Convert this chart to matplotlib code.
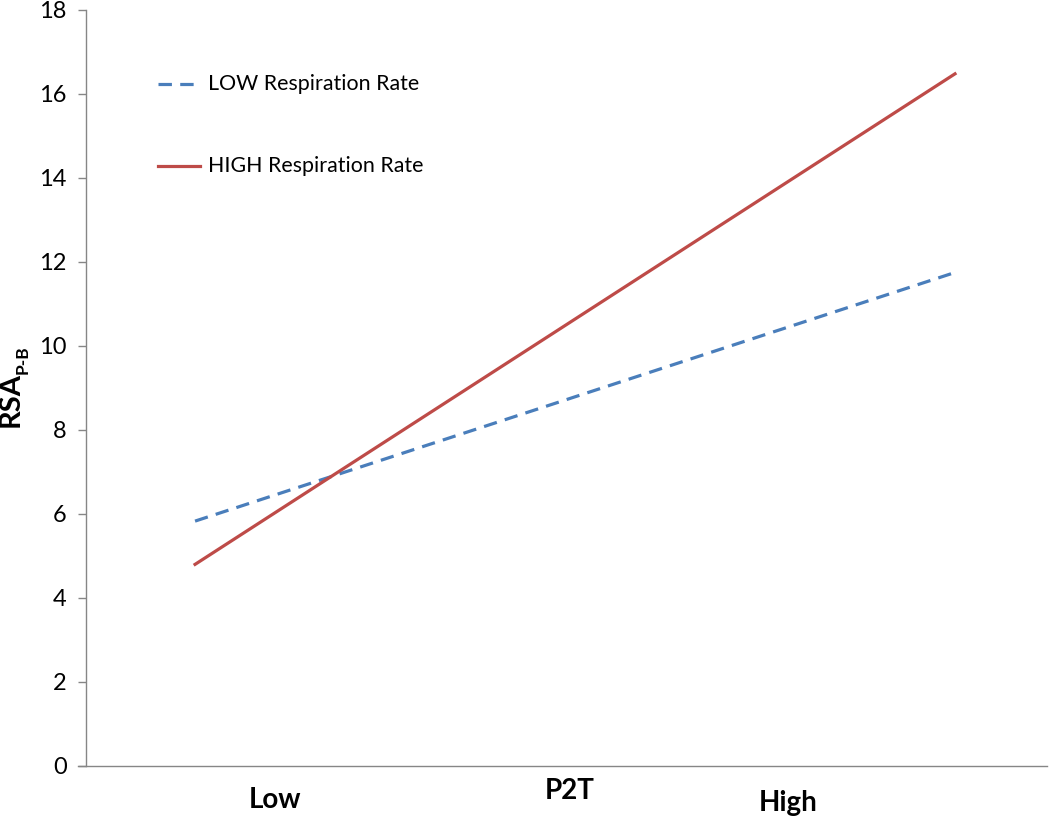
import matplotlib
matplotlib.use('Agg')
import matplotlib.pyplot as plt

# P2T at -1 SD (Low) and +1 SD (High)
p2t = [-1, 1]
low_resp = [5.83, 11.75]
high_resp = [4.80, 16.48]
y_ticks = [0, 2, 4, 6, 8, 10, 12, 14, 16, 18]

plt.rcParams['font.family'] = ['Lato', 'DejaVu Sans']

fig = plt.figure(figsize=(10.5, 8.18), dpi=100)
ax = fig.add_axes([0.0819, 0.0636, 0.9152, 0.9242])

ax.plot(p2t, low_resp, color='#4a7ebb', lw=2.3, dashes=(4.2, 2.6))
ax.plot(p2t, high_resp, color='#be4b48', lw=2.3)

ax.set_xlim(-1.287, 1.242)
ax.set_ylim(0, 18)
ax.set_yticks(y_ticks)
ax.set_xticks([])
ax.tick_params(axis='y', labelsize=17, length=6, width=1, color='#868686', pad=8)

for s in ['top', 'right']:
    ax.spines[s].set_visible(False)
for s in ['left', 'bottom']:
    ax.spines[s].set_color('#868686')
    ax.spines[s].set_linewidth(1)
ax.spines['bottom'].set_bounds(-1.308, 1.242)
ax.spines['bottom'].set_clip_on(False)

# category labels under the axis
ax.text(-0.789, -0.82, 'Low', fontsize=20, fontweight='bold', ha='center', va='center')
ax.text(0.56, -0.88, 'High', fontsize=20, fontweight='bold', ha='center', va='center')
ax.text(-0.013, -0.6, 'P2T', fontsize=20, fontweight='bold', ha='center', va='center')

# y-axis label with subscript
fig.text(-0.002, 0.512, 'RSA', fontsize=21, fontweight='bold', rotation=90, ha='left', va='center')
fig.text(0.0135, 0.560, 'P-B', fontsize=12.5, fontweight='bold', rotation=90, ha='left', va='center')

# legend drawn inside the plot area
ax.plot([-1.097, -1.0], [16.24, 16.24], color='#4a7ebb', lw=2.3, dashes=(4.2, 2.6))
ax.text(-0.966, 16.24, 'LOW Respiration Rate', fontsize=15.4, va='center', ha='left')
ax.plot([-1.097, -0.987], [14.29, 14.29], color='#be4b48', lw=2.3)
ax.text(-0.966, 14.29, 'HIGH Respiration Rate', fontsize=15.4, va='center', ha='left')

fig.savefig('out.png', dpi=100)
